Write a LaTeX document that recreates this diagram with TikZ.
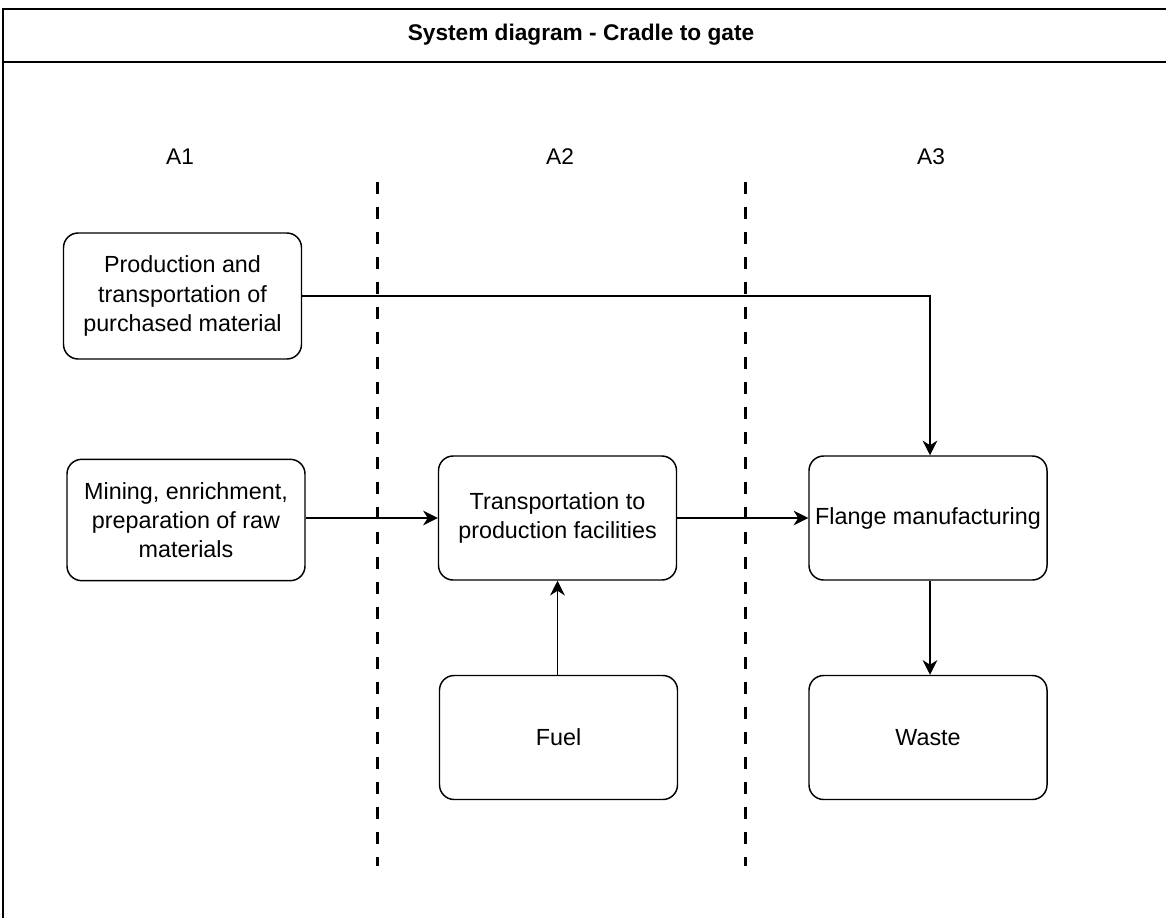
\documentclass[tikz,border=0pt]{standalone}
\usepackage{fontspec}
\setmainfont{Liberation Sans}
\usetikzlibrary{arrows.meta}
\begin{document}
\begin{tikzpicture}[x=0.75pt,y=-0.75pt,
  box/.style={draw,line width=1.1pt,rounded corners=11pt,minimum width=178.5pt,minimum height=93pt,align=center,inner sep=0pt,font=\fontsize{17.5}{22}\selectfont},
  lbl/.style={font=\fontsize{17}{22}\selectfont},
  sep/.style={line width=2.25pt,dash pattern=on 9pt off 9.75pt},
  arr/.style={line width=1.1pt,-{Stealth[length=11pt,width=11pt,inset=3.5pt]}}]
\useasboundingbox (0,0) rectangle (1166,917);
\clip (0,0) rectangle (1166,917);
\fill[white] (0,0) rectangle (1166,917);
% frame
\draw[line width=1.1pt] (3,9) rectangle (1200,950);
\draw[line width=1.1pt] (3,62) -- (1200,62);
\node[font=\bfseries\fontsize{17}{22}\selectfont] (title) at (581,35) {System diagram - Cradle to gate};
% stage labels
\node[lbl] (a1) at (180,157) {A1};
\node[lbl] (a2) at (560,157) {A2};
\node[lbl] (a3) at (931,157) {A3};
% separators
\coordinate (s1t) at (377,182); \coordinate (s1b) at (377,866);
\coordinate (s2t) at (745,182); \coordinate (s2b) at (745,866);
\draw[sep] (s1t) -- (s1b);
\draw[sep] (s2t) -- (s2b);
% boxes
\node[box,minimum height=94.5pt] (P) at (182.5,296) {Production and\\transportation of\\purchased material};
\node[box,minimum height=91pt] (M) at (186,520) {Mining, enrichment,\\preparation of raw\\materials};
\node[box] (T) at (557.5,518) {Transportation to\\production facilities};
\node[box] (Fu) at (558.5,737.5) {Fuel};
\node[box] (F) at (928,518) {Flange manufacturing};
\node[box] (W) at (928,737.5) {Waste};
% connectors
\draw[arr] (P.east) -| ([xshift=1.5pt]F.north);
\draw[arr] (M.east |- T.west) -- (T.west);
\draw[arr] (T.east) -- (F.west);
\draw[arr] (Fu.north -| T.south) -- (T.south);
\draw[arr] ([xshift=1.5pt]F.south) -- ([xshift=1.5pt]W.north);
\end{tikzpicture}
\end{document}
